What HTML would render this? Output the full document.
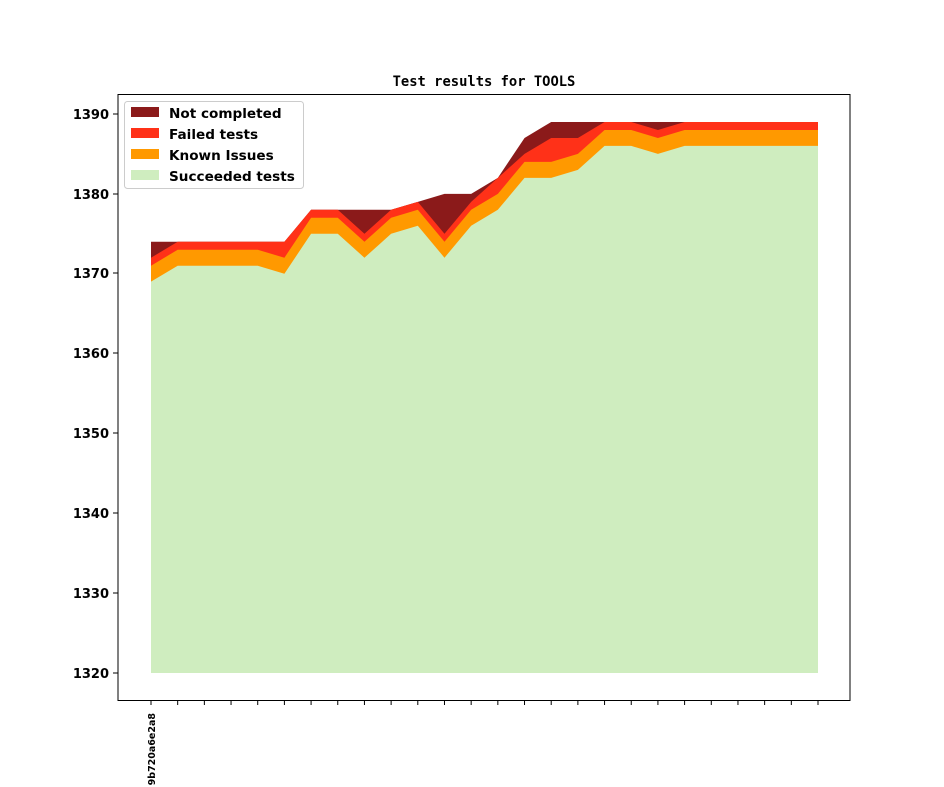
<!DOCTYPE html>
<html><head><meta charset="utf-8"><style>
body{margin:0;background:#fff;}
svg{display:block;font-family:"DejaVu Sans","Liberation Sans",sans-serif;}
</style></head><body>
<svg id="s" width="944" height="787" viewBox="0 0 944 787" xmlns="http://www.w3.org/2000/svg">
<rect width="944" height="787" fill="#fff"/>
<g id="areas"></g>
<rect x="118" y="94.5" width="732" height="606" fill="none" stroke="#000" stroke-width="1"/>
<text x="484" y="86" text-anchor="middle" font-family="'DejaVu Sans Mono','Liberation Mono',monospace" font-weight="bold" font-size="13.8">Test results for TOOLS</text>
<g font-weight="bold" font-size="13" text-anchor="end">
<text x="109" y="119">1390</text>
<text x="109" y="199">1380</text>
<text x="109" y="278">1370</text>
<text x="109" y="358">1360</text>
<text x="109" y="438">1350</text>
<text x="109" y="518">1340</text>
<text x="109" y="598">1330</text>
<text x="109" y="678">1320</text>
</g>
<g stroke="#000" stroke-width="1">
<line x1="113" y1="114" x2="118" y2="114"/><line x1="113" y1="194" x2="118" y2="194"/>
<line x1="113" y1="273" x2="118" y2="273"/><line x1="113" y1="353" x2="118" y2="353"/>
<line x1="113" y1="433" x2="118" y2="433"/><line x1="113" y1="513" x2="118" y2="513"/>
<line x1="113" y1="593" x2="118" y2="593"/><line x1="113" y1="673" x2="118" y2="673"/>
</g>
<g id="xt" stroke="#000" stroke-width="1"></g>
<text transform="translate(155,713) rotate(-90)" text-anchor="end" font-weight="bold" font-size="9.5">9b720a6e2a8</text>
<g>
<rect x="124.5" y="101.5" width="179" height="87" rx="3" fill="#fff" fill-opacity="0.8" stroke="#ccc"/>
<rect x="131" y="107" width="28" height="10" fill="#8b1a1a"/>
<rect x="131" y="128" width="28" height="10" fill="#ff3118"/>
<rect x="131" y="149" width="28" height="10" fill="#ff9900"/>
<rect x="131" y="170" width="28" height="10" fill="#cfedbf"/>
<g font-weight="bold" font-size="13.6">
<text x="169" y="118">Not completed</text>
<text x="169" y="139">Failed tests</text>
<text x="169" y="160">Known Issues</text>
<text x="169" y="181">Succeeded tests</text>
</g>
</g>
</svg>
<script>
var d=[[1369,1371,1372,1374],[1371,1373,1374,1374],[1371,1373,1374,1374],[1371,1373,1374,1374],[1371,1373,1374,1374],[1370,1372,1374,1374],[1375,1377,1378,1378],[1375,1377,1378,1378],[1372,1374,1375,1378],[1375,1377,1378,1378],[1376,1378,1379,1379],[1372,1374,1375,1380],[1376,1378,1379,1380],[1378,1380,1382,1382],[1382,1384,1385,1387],[1382,1384,1387,1389],[1383,1385,1387,1389],[1386,1388,1389,1389],[1386,1388,1389,1389],[1385,1387,1388,1389]];
while(d.length<26)d.push([1386,1388,1389,1389]);
function X(i){return 151+i*26.68;}function Y(v){return 673-(v-1320)*7.986;}
var cols=["#cfedbf","#ff9900","#ff3118","#8b1a1a"],g=document.getElementById('areas'),ns="http://www.w3.org/2000/svg";
for(var k=3;k>=0;k--){var p=[];for(var i=0;i<26;i++)p.push(X(i)+","+Y(d[i][k]));p.push(X(25)+","+Y(1320));p.push(X(0)+","+Y(1320));
var e=document.createElementNS(ns,'polygon');e.setAttribute('points',p.join(' '));e.setAttribute('fill',cols[k]);g.appendChild(e);}
var t=document.getElementById('xt');for(var i=0;i<26;i++){var l=document.createElementNS(ns,'line');l.setAttribute('x1',X(i));l.setAttribute('x2',X(i));l.setAttribute('y1',700.5);l.setAttribute('y2',705);t.appendChild(l);}
</script>
</body></html>
